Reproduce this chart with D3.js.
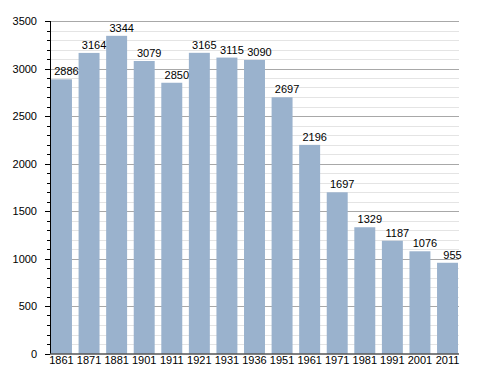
<!DOCTYPE html>
<html>
  <head>
    <meta charset="UTF-8" />
    <title>Population</title>
    <style>
      body { margin: 0; background: #fff; }
      text { font-family: "Liberation Sans", Arial, sans-serif; font-size: 11px; fill: #000; }
    </style>
  </head>
  <body>
    <svg id="chart" width="488" height="373"></svg>
    <script src="https://cdnjs.cloudflare.com/ajax/libs/d3/7.8.5/d3.min.js"></script>
    <script>
const years = ['1861', '1871', '1881', '1901', '1911', '1921', '1931', '1936', '1951', '1961', '1971', '1981', '1991', '2001', '2011'];
const population = [2886, 3164, 3344, 3079, 2850, 3165, 3115, 3090, 2697, 2196, 1697, 1329, 1187, 1076, 955];
const majorTicks = [0, 500, 1000, 1500, 2000, 2500, 3000, 3500];

const svg = d3.select('#chart');
const plotLeft = 50, plotRight = 459, plotTop = 21, plotBottom = 353.5;

const x = d3.scaleBand()
  .domain(years)
  .range([47.7, 461.3])
  .paddingInner(0.24)
  .paddingOuter(0.12);

const y = d3.scaleLinear().domain([0, 3500]).range([plotBottom, plotTop]);

const minor = d3.range(0, 3501, 100).filter(v => v % 500 !== 0);
const py = d => Math.round(y(d)) + 0.5;

// grid
svg.append('g').selectAll('line')
  .data(minor).enter().append('line')
  .attr('x1', plotLeft).attr('x2', plotRight)
  .attr('y1', py).attr('y2', py)
  .attr('stroke', '#e4e4e4');

svg.append('g').selectAll('line')
  .data(majorTicks.slice(1)).enter().append('line')
  .attr('x1', plotLeft).attr('x2', plotRight)
  .attr('y1', py).attr('y2', py)
  .attr('stroke', '#a8a8a8');

// bars
svg.append('g').selectAll('rect')
  .data(population).enter().append('rect')
  .attr('x', (d, i) => x(years[i]))
  .attr('width', x.bandwidth())
  .attr('y', d => y(d))
  .attr('height', d => plotBottom - y(d))
  .attr('fill', '#9ab2cd');

// value labels
svg.append('g').selectAll('text')
  .data(population).enter().append('text')
  .attr('x', (d, i) => x(years[i]) + x.bandwidth() / 2 + 5)
  .attr('y', d => y(d) - 4)
  .attr('text-anchor', 'middle')
  .text(d => d);

// y axis
const yAxis = svg.append('g');
yAxis.append('line')
  .attr('x1', plotLeft + 0.5).attr('x2', plotLeft + 0.5)
  .attr('y1', plotTop).attr('y2', plotBottom)
  .attr('stroke', '#000');
yAxis.selectAll('.minor')
  .data(minor).enter().append('line')
  .attr('x1', plotLeft - 3).attr('x2', plotLeft)
  .attr('y1', py).attr('y2', py)
  .attr('stroke', '#000');
yAxis.selectAll('.major')
  .data(majorTicks).enter().append('line')
  .attr('x1', plotLeft - 5).attr('x2', plotLeft)
  .attr('y1', py).attr('y2', py)
  .attr('stroke', '#000');
yAxis.selectAll('text')
  .data(majorTicks).enter().append('text')
  .attr('x', 37)
  .attr('y', d => y(d) + 4)
  .attr('text-anchor', 'end')
  .text(d => d);

// x axis
svg.append('line')
  .attr('x1', plotLeft).attr('x2', plotRight)
  .attr('y1', plotBottom + 0.5).attr('y2', plotBottom + 0.5)
  .attr('stroke', '#000');
svg.append('g').selectAll('text')
  .data(years).enter().append('text')
  .attr('x', d => x(d) + x.bandwidth() / 2)
  .attr('y', 364)
  .attr('text-anchor', 'middle')
  .text(d => d);
    </script>
  </body>
</html>
